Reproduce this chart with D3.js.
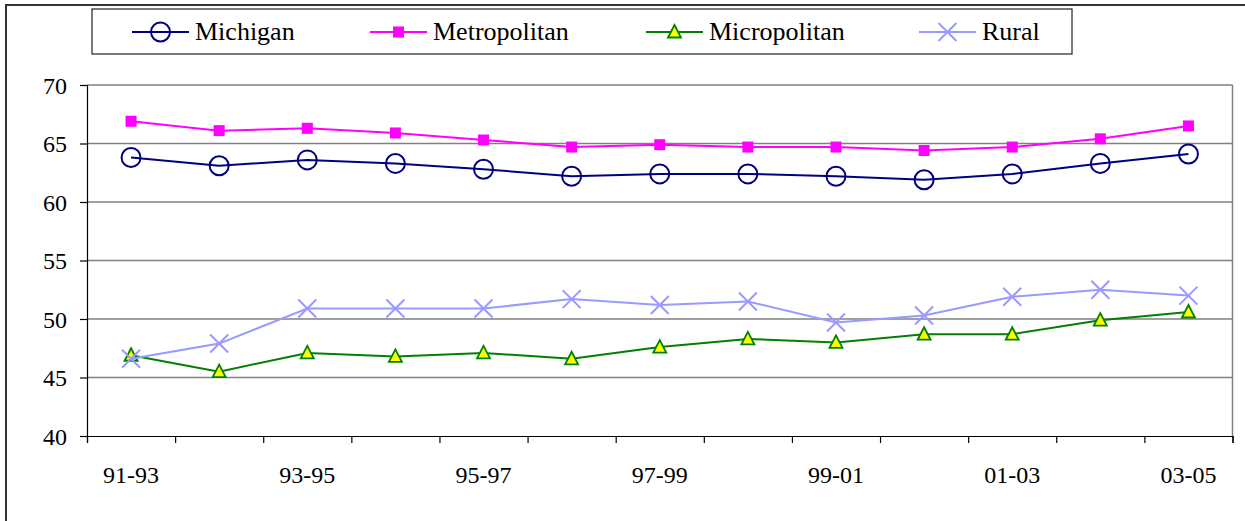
<!DOCTYPE html>
<html>
<head>
<meta charset="utf-8">
<script src="https://cdn.jsdelivr.net/npm/d3@7"></script>
<style>
  html, body { margin: 0; padding: 0; background: #fff; }
  svg { display: block; }
</style>
</head>
<body>
<svg id="chart" width="1245" height="521"></svg>
<script>
const categories = ["91-93","92-94","93-95","94-96","95-97","96-98","97-99","98-00","99-01","00-02","01-03","02-04","03-05"];
const michigan     = [63.8, 63.1, 63.6, 63.3, 62.8, 62.2, 62.4, 62.4, 62.2, 61.9, 62.4, 63.3, 64.1];
const metropolitan = [66.9, 66.1, 66.3, 65.9, 65.3, 64.7, 64.9, 64.7, 64.7, 64.4, 64.7, 65.4, 66.5];
const micropolitan = [46.9, 45.5, 47.1, 46.8, 47.1, 46.6, 47.6, 48.3, 48.0, 48.7, 48.7, 49.9, 50.6];
const rural        = [46.6, 47.9, 50.9, 50.9, 50.9, 51.7, 51.2, 51.5, 49.7, 50.3, 51.9, 52.5, 52.0];
const yTicks = [40, 45, 50, 55, 60, 65, 70];
const xLabels = ["91-93","93-95","95-97","97-99","99-01","01-03","03-05"];

const seriesList = [
  {name: "Michigan", values: michigan, color: "#000080", marker: "circle"},
  {name: "Metropolitan", values: metropolitan, color: "#FF00FF", marker: "square"},
  {name: "Micropolitan", values: micropolitan, color: "#008000", marker: "triangle"},
  {name: "Rural", values: rural, color: "#9999FF", marker: "cross"}
];

const FONT = '"Liberation Serif", "Times New Roman", serif';
const svg = d3.select("#chart");
const L = 87, R = 1232.5, T = 85, B = 436;

// outer chart border
svg.append("path").attr("d", `M6,${521}V5H${1245}`).attr("fill","none").attr("stroke","#333").attr("stroke-width",2);

const x = d3.scaleBand().domain(categories).range([L, R]).padding(0);
const xIdx = d3.scaleLinear().domain([0, categories.length]).range([L, R]);
const y = d3.scaleLinear().domain([40, 70]).range([B, T]);
const cx = c => x(c) + x.bandwidth() / 2;

// gridlines
svg.append("g").selectAll("line").data(yTicks.filter(v => v > 40)).join("line")
  .attr("x1", L).attr("x2", R).attr("y1", d => y(d)).attr("y2", d => y(d))
  .attr("stroke", "#808080").attr("stroke-width", 1.5);
// right border
svg.append("line").attr("x1", R).attr("x2", R).attr("y1", T).attr("y2", B)
  .attr("stroke", "#808080").attr("stroke-width", 1.5);

// y axis
const yAxis = svg.append("g").attr("transform", `translate(${L},0)`)
  .call(d3.axisLeft(y).tickValues(yTicks).tickSize(7).tickPadding(13).tickFormat(d3.format("d")));
yAxis.attr("font-family", null).attr("font-size", null);
yAxis.select(".domain").attr("stroke", "#000").attr("stroke-width", 1.2);
yAxis.selectAll(".tick line").attr("stroke", "#000").attr("stroke-width", 1.2);
yAxis.selectAll("text").attr("dy", "0.34em")
  .style("font-family", FONT).style("font-size", "24px").style("fill", "#000");

// x axis ticks at category boundaries
const xTickAxis = svg.append("g").attr("transform", `translate(0,${B})`)
  .call(d3.axisBottom(xIdx).tickValues(d3.range(categories.length + 1)).tickSize(7).tickFormat(""));
xTickAxis.select(".domain").attr("stroke", "#000").attr("stroke-width", 1.2);
xTickAxis.selectAll(".tick line").attr("stroke", "#000").attr("stroke-width", 1.2);

// x labels
const xLabAxis = svg.append("g").attr("transform", `translate(0,${B})`)
  .call(d3.axisBottom(x).tickValues(xLabels).tickSize(0));
xLabAxis.attr("font-family", null).attr("font-size", null);
xLabAxis.select(".domain").remove();
xLabAxis.selectAll("text").attr("y", 47).attr("dy", 0)
  .style("font-family", FONT).style("font-size", "24px").style("fill", "#000");

// markers
function drawMarker(g, type, color) {
  if (type === "circle") {
    g.append("circle").attr("r", 9.5).attr("fill", "none").attr("stroke", color).attr("stroke-width", 2);
  } else if (type === "square") {
    g.append("rect").attr("x", -5.5).attr("y", -5.5).attr("width", 11).attr("height", 11).attr("fill", color);
  } else if (type === "triangle") {
    g.append("path").attr("d", "M0,-7L6.5,5.5L-6.5,5.5Z").attr("fill", "#FFFF00").attr("stroke", color).attr("stroke-width", 1.8);
  } else if (type === "cross") {
    g.append("path").attr("d", "M-9,-9L9,9M-9,9L9,-9").attr("stroke", color).attr("stroke-width", 2).attr("fill", "none");
  }
}

const line = d3.line().x((d, i) => cx(categories[i])).y(d => y(d));
seriesList.forEach(s => {
  const g = svg.append("g");
  g.append("path").datum(s.values).attr("d", line).attr("fill", "none")
    .attr("stroke", s.color).attr("stroke-width", 2);
  s.values.forEach((v, i) => {
    const m = g.append("g").attr("transform", `translate(${cx(categories[i])},${y(v)})`);
    drawMarker(m, s.marker, s.color);
  });
});

// legend
const legend = svg.append("g");
legend.append("rect").attr("x", 92).attr("y", 9).attr("width", 980).attr("height", 45)
  .attr("fill", "#fff").attr("stroke", "#222").attr("stroke-width", 1.2);
const legendX = [132, 370, 646, 919];
seriesList.forEach((s, i) => {
  const g = legend.append("g").attr("transform", `translate(${legendX[i]},32)`);
  g.append("line").attr("x1", 0).attr("x2", 57).attr("stroke", s.color).attr("stroke-width", 2);
  const m = g.append("g").attr("transform", "translate(28.5,0)");
  drawMarker(m, s.marker, s.color);
  g.append("text").attr("x", 63).attr("dy", "0.32em")
    .style("font-family", FONT).style("font-size", "26px").style("fill", "#000").text(s.name);
});
</script>
</body>
</html>
